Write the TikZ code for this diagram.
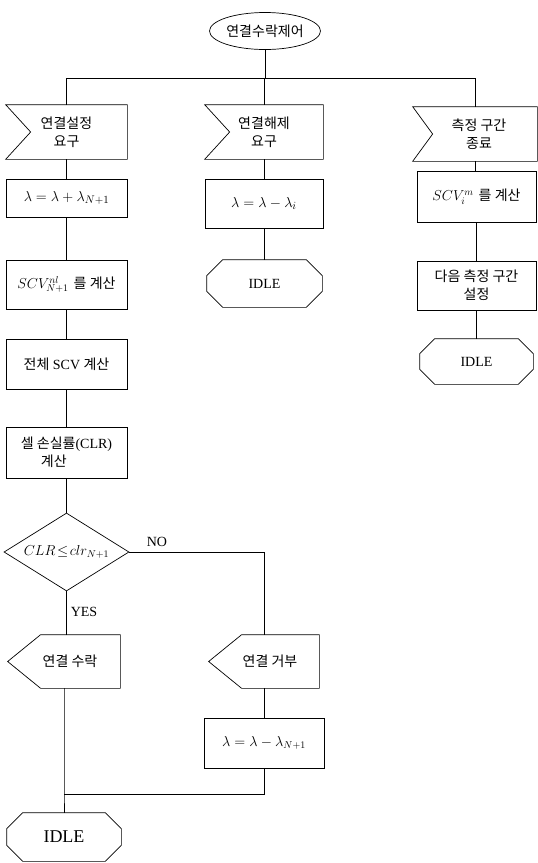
\documentclass[tikz,border=0pt]{standalone}
\usepackage{fontspec}
\setmainfont{Liberation Serif}
\newfontfamily\kr{Noto Sans CJK KR}
\usetikzlibrary{calc,shapes.geometric}
\newcommand\ko[1]{{\kr #1}}
\newcommand\inflag[2]{\draw (#1.north west) -- (#1.north east) -- (#1.south east) -- (#1.south west) -- ($(#1.west)+(#2,0)$) -- cycle;}
\newcommand\outflag[2]{\draw ($(#1.north west)+(#2,0)$) -- (#1.north east) -- (#1.south east) -- ($(#1.south west)+(#2,0)$) -- (#1.west) -- cycle;}
\newcommand\octo[2]{\draw ($(#1.north west)+(#2,0)$) -- ($(#1.north east)+(-#2,0)$) -- ($(#1.north east)+(0,#2)$) -- ($(#1.south east)+(0,-#2)$) -- ($(#1.south east)+(-#2,0)$) -- ($(#1.south west)+(#2,0)$) -- ($(#1.south west)+(0,-#2)$) -- ($(#1.north west)+(0,#2)$) -- cycle;}
\tikzset{
  sz/.style 2 args={minimum width=#1pt, minimum height=#2pt},
  shp/.style={rectangle, inner sep=0pt, align=center},
  box/.style={shp, draw},
  ell/.style={draw, ellipse, inner sep=0pt, minimum width=111pt, minimum height=37pt},
  dia/.style={draw, diamond, inner sep=0pt, aspect=1.6, minimum width=125pt, minimum height=78pt},
  lab/.style={inner sep=0pt},
  mth/.style={font=\fontsize{15.5}{18}\selectfont},
  big/.style={font=\fontsize{18}{21}\selectfont}
}
\begin{document}
\begin{tikzpicture}[x=1pt,y=-1pt,line width=0.7pt,
  every node/.style={font=\fontsize{14}{18}\selectfont}]
\useasboundingbox (0,0) rectangle (538,863);

% top
\node[ell] (start) at (265,31) {\ko{연결수락제어}};
\coordinate (busy) at (0,78);

% left column
\node[shp, sz={121}{54}] (req) at (66.5,132) {\ko{연결설정}\\\ko{요구}};
\inflag{req}{25}
\node[box, sz={121}{38}, mth] (add) at (66.5,198) {$\lambda=\lambda+\lambda_{N+1}$};
\node[box, sz={121}{49}] (scvn) at (66.5,284.5) {$SCV^{nl}_{N+1}$\hspace{5pt}\ko{를 계산}};
\node[box, sz={121}{50}] (tot) at (66.5,364) {\ko{전체} SCV \ko{계산}};
\node[box, sz={121}{51}, align=left] (clr) at (66.5,452.5) {\ko{셀 손실률}(CLR)\\\hspace*{20pt}\ko{계산}};
\node[dia] (dec) at (66.5,552) {$CLR\!\le\! clr_{N+1}$};
\node[shp, sz={112}{53}] (acc) at (64,661.5) {\hspace*{12pt}\ko{연결 수락}};
\outflag{acc}{33}
\node[shp, sz={114}{48}, big] (idle1) at (64,837) {IDLE};
\octo{idle1}{16}

% NO branch
\node[shp, sz={110}{53}] (rej) at (264,661.5) {\hspace*{12pt}\ko{연결 거부}};
\outflag{rej}{33}
\node[box, sz={120}{50}] (sub2) at (264,743) {$\lambda=\lambda-\lambda_{N+1}$};
\coordinate (merge) at (64,794);

% middle column
\node[shp, sz={118}{54}] (rel) at (264,132) {\ko{연결해제}\\\ko{요구}};
\inflag{rel}{25}
\node[box, sz={118}{49}, mth] (sub1) at (264,203.5) {$\lambda=\lambda-\lambda_i$};
\node[shp, sz={115}{47}] (idle2) at (264.5,283.5) {IDLE};
\octo{idle2}{16}

% right column
\node[shp, sz={124}{54}] (meas) at (475,134) {\hspace*{8pt}\ko{측정 구간}\\\hspace*{8pt}\ko{종료}};
\inflag{meas}{20}
\node[box, sz={119}{51}] (scvi) at (476.5,196.5) {$SCV_i^{m}$\hspace{5pt}\ko{를 계산}};
\node[box, sz={119}{49}] (next) at (476.5,285.5) {\ko{다음 측정 구간}\\\ko{설정}};
\node[shp, sz={113}{45}] (idle3) at (476.5,361.5) {IDLE};
\octo{idle3}{15}

% labels
\node[lab] (no) at (157,542) {NO};
\node[lab] (yes) at (84,612) {YES};

% connectors
\draw (start.south) -- (start.south |- busy);
\draw (req.north |- busy) -- (meas.north |- busy);
\draw (req.north |- busy) -- (req.north);
\draw (rel.north |- busy) -- (rel.north);
\draw (meas.north |- busy) -- (meas.north);
\draw (req.south) -- (req.south |- add.north);
\draw (add.south) -- (add.south |- scvn.north);
\draw (scvn.south) -- (scvn.south |- tot.north);
\draw (tot.south) -- (tot.south |- clr.north);
\draw (clr.south) -- (dec.north);
\draw (dec.south) -- (dec.south |- acc.north);
\draw (dec.east) -| (rej.north);
\draw (rej.south) -- (sub2.north);
\draw (sub2.south) |- (merge);
\draw (acc.south) -- (merge) -- (idle1.north);
\draw (rel.south) -- (rel.south |- sub1.north);
\draw (sub1.south) -- (sub1.south |- idle2.north);
\draw (meas.south) -- (meas.south |- scvi.north);
\draw (scvi.south) -- (next.north);
\draw (next.south) -- (idle3.north);
\end{tikzpicture}
\end{document}
